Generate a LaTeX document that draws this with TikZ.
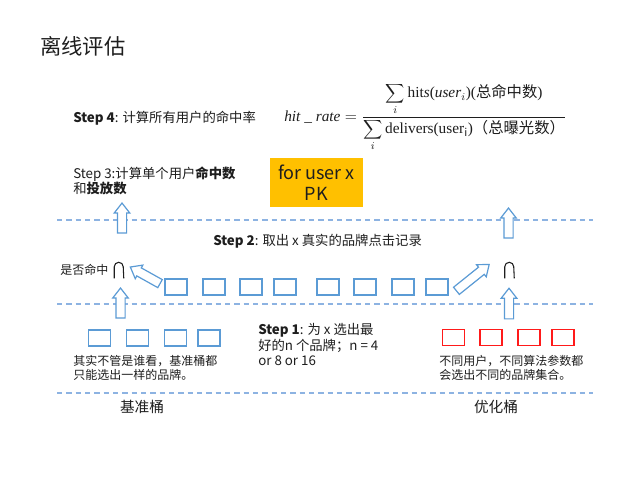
\documentclass[tikz,border=0pt]{standalone}
\usepackage{fontspec}
\setmainfont{Noto Sans CJK SC}
\newfontfamily\tms{Liberation Serif}
\usetikzlibrary{shapes.arrows}
\definecolor{boxblue}{HTML}{5B9BD5}
\definecolor{dashblue}{HTML}{8DB3E2}
\definecolor{pkyellow}{HTML}{FFC000}
\definecolor{ink}{HTML}{1E1E1E}
\definecolor{brandred}{HTML}{FF1A1A}

\tikzset{
  brand/.style={draw=boxblue, line width=1.1pt, minimum width=16.5pt, minimum height=12pt, inner sep=0pt},
  redbrand/.style={brand, draw=brandred},
  sep/.style={dashblue, line width=1.1pt, dash pattern=on 4pt off 3pt},
  blockarrow/.style={shape=single arrow, draw=boxblue, line width=0.9pt, fill=white,
    inner xsep=0pt, inner ysep=3pt, single arrow head extend=2.4pt,
    single arrow tip angle=76, single arrow head indent=0pt, minimum height=#1},
  steptext/.style={text=ink, font=\fontsize{10}{11.4}\selectfont, inner sep=0pt, align=left, anchor=west},
  notetext/.style={text=ink, font=\fontsize{9}{10.5}\selectfont, inner sep=0pt, align=left, anchor=west},
  bucket/.style={text=ink, font=\fontsize{11}{13}\selectfont, inner sep=0pt},
  capmark/.style={minimum width=6.75pt, minimum height=12pt, inner sep=0pt},
  capline/.style={ink, line width=0.8pt},
}

\begin{document}
\begin{tikzpicture}[x=0.75pt, y=-0.75pt]
\useasboundingbox[fill=white] (0,0) rectangle (640,480);

% title
\node[text=ink, font=\fontsize{16}{18}\selectfont, inner sep=0pt, anchor=west] (title) at (40,46) {离线评估};

% step 4 and the hit-rate formula
\node[steptext] (s4) at (73,118) {\textbf{Step 4}: 计算所有用户的命中率};
\node[text=ink, font=\fontsize{11.5}{14}\selectfont, inner sep=0pt, anchor=west] (rate) at (284,117)
  {$\displaystyle \mbox{\tms\itshape hit \_ rate} =
   \frac{\displaystyle\sum_{i}\mbox{\tms hit\textit{s}(\textit{user}$_i$)(}\mbox{总命中数}\mbox{\tms)}}
        {\displaystyle\sum_{i}\mbox{\tms delivers(user$_{\mathrm{i}}$)}\mbox{（总曝光数）}}$};

% step 3
\node[steptext] (s3) at (73,180.5) {Step 3:计算单个用户\textbf{命中数}\\和\textbf{投放数}};
\node[fill=pkyellow, text=ink, minimum width=70pt, minimum height=37pt, inner sep=0pt,
      align=center, font=\fontsize{13.5}{15.5}\selectfont] (pk) at (316.5,182.5) {for user x\\PK};

% separators
\draw[sep] (57,220) -- (593,220);
\draw[sep] (57,304) -- (593,304);
\draw[sep] (57,393) -- (593,393);

% step 2
\node[steptext] (s2) at (213,241) {\textbf{Step 2}: 取出 x 真实的品牌点击记录};

% hit marks
\node[notetext] (hitq) at (60,270) {是否命中};
\node[capmark] (capL) at (119,270) {};
\node[capmark] (capR) at (509.5,270) {};
\draw[capline] (capL.south west) -- ++(0,-11.5) arc[start angle=180, end angle=0, radius=3.375pt] -- (capL.south east);
\draw[capline] (capR.south west) -- ++(0,-11.5) arc[start angle=180, end angle=0, radius=3.375pt] -- (capR.south east);

% clicked brands of user x
\foreach \i/\x in {1/176,2/214,3/251,4/285,5/328,6/365,7/403,8/437}
  \node[brand] (c\i) at (\x,287) {};

% baseline bucket brands
\foreach \i/\x in {1/99.5,2/137.5,3/175.5,4/209}
  \node[brand] (b\i) at (\x,338) {};
% optimised bucket brands
\foreach \i/\x in {1/453.5,2/491,3/529,4/563}
  \node[redbrand] (r\i) at (\x,337.5) {};

% block arrows
\node[blockarrow=22.5pt, rotate=90] (upA) at (122,221) {};
\node[blockarrow=22.5pt, rotate=90] (upB) at (508.5,226) {};
\node[blockarrow=22.5pt, rotate=90] (upC) at (120.5,306) {};
\node[blockarrow=23pt, rotate=90] (upD) at (509,306.5) {};
\node[blockarrow=25.5pt, rotate=150.8] (dgL) at (147.75,276.75) {};
\node[blockarrow=31.5pt, rotate=38.8] (dgR) at (470.5,279.5) {};

% step 1
\node[steptext, font=\fontsize{10}{11.6}\selectfont] (s1) at (258,344.5)
  {\textbf{Step 1}: 为 x 选出最\\好的n 个品牌；n = 4\\or 8 or 16};

% notes
\node[notetext] (noteL) at (73,368) {其实不管是谁看，基准桶都\\只能选出一样的品牌。};
\node[notetext] (noteR) at (439,368) {不同用户，不同算法参数都\\会选出不同的品牌集合。};

% bucket names
\node[bucket] (baseB) at (142,407) {基准桶};
\node[bucket] (optB) at (496,407) {优化桶};
\end{tikzpicture}
\end{document}
